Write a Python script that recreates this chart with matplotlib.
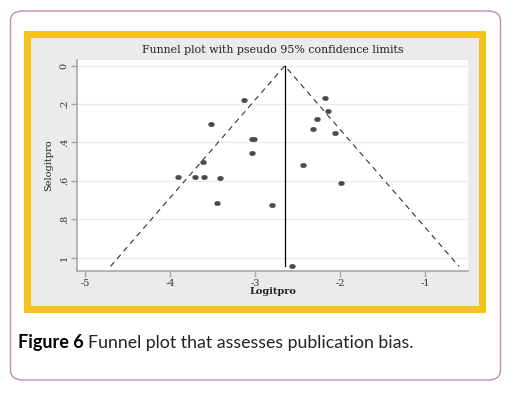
import matplotlib
matplotlib.use('Agg')
import matplotlib.pyplot as plt
import numpy as np
from matplotlib.patches import FancyBboxPatch, Rectangle
from matplotlib.path import Path

# 数据
logitpro = [-3.13, -2.18, -2.14, -2.27, -2.32, -2.06, -3.52, -3.04, -3.01,
            -3.04, -3.61, -2.44, -3.90, -3.71, -3.60, -3.41, -1.99, -3.45,
            -2.80, -2.56]
selogitpro = [0.179, 0.167, 0.235, 0.277, 0.329, 0.351, 0.303, 0.384, 0.384,
              0.456, 0.504, 0.519, 0.581, 0.581, 0.581, 0.585, 0.611, 0.717,
              0.727, 1.042]
theta = -2.65      # 合并效应
se_max = 1.046     # 漏斗底部
xticks = [-5, -4, -3, -2, -1]
yticks = [0, 0.2, 0.4, 0.6, 0.8, 1]
yticklabels = ['0', '.2', '.4', '.6', '.8', '1']

W, H = 516, 394
fig = plt.figure(figsize=(W / 100, H / 100), dpi=100)
fig.patch.set_facecolor('white')

# 外框
outer = FancyBboxPatch((10.5 / W, 14 / H), 490 / W, 369 / H,
                       boxstyle='round,pad=0,rounding_size=0.025',
                       transform=fig.transFigure, facecolor='white',
                       edgecolor='#BE8DB0', lw=1.0, zorder=-3)
fig.patches.append(outer)
# 黄色框
frame = Rectangle((27 / W, (H - 309) / H), 455 / W, 275 / H,
                  transform=fig.transFigure, facecolor='#EBEBEB',
                  edgecolor='#F6C21C', lw=5, zorder=-2)
fig.patches.append(frame)

ax = fig.add_axes([77 / W, (H - 271) / H, (468 - 77) / W, (271 - 60) / H])
ax.set_zorder(1)
ax.set_facecolor('white')

# 椭圆点
circ = Path.unit_circle()
ell = Path(circ.vertices * np.array([1.0, 0.78]), circ.codes)

# 漏斗线
ax.plot([theta - 1.96 * se_max, theta, theta + 1.96 * se_max],
        [se_max, 0, se_max], ls=(0, (5, 4)), color='#333333', lw=0.8)
ax.plot([theta, theta], [0, se_max], color='black', lw=0.9)
ax.plot(logitpro, selogitpro, ls='none', marker=ell, ms=4.2,
        color='#4a4a4a', mec='#4a4a4a', mew=0.3)

ax.set_xlim(-5.094, -0.494)
ax.set_ylim(1.07, -0.03)
ax.set_xticks(xticks)
ax.set_xticklabels([str(t) for t in xticks], fontfamily='DejaVu Serif', fontsize=7)
ax.set_yticks(yticks)
ax.set_yticklabels(yticklabels, fontfamily='DejaVu Serif', fontsize=7,
                   rotation=90, va='center')
ax.grid(axis='y', color='#F3EAEA', lw=0.9)
ax.set_axisbelow(True)
for s in ['top', 'right']:
    ax.spines[s].set_visible(False)
for s in ['left', 'bottom']:
    ax.spines[s].set_color('#A8A8A8')
    ax.spines[s].set_linewidth(1.2)
ax.tick_params(color='#A8A8A8', length=4, width=1, pad=2, labelcolor='#333333')

ax.set_title('Funnel plot with pseudo 95% confidence limits',
             fontfamily='DejaVu Serif', fontsize=7.9, pad=5, color='#222222')
ax.set_xlabel('Logitpro', fontfamily='DejaVu Serif', fontsize=7,
              fontweight='bold', labelpad=-1, color='#222222')
ax.set_ylabel('Selogitpro', fontfamily='DejaVu Serif', fontsize=7,
              labelpad=5, color='#222222')

# 图注
t1 = fig.text(18 / W, (H - 348) / H, 'Figure 6', fontfamily='Lato',
              fontweight='bold', fontsize=13, color='black')
fig.canvas.draw()
bb = t1.get_window_extent()
fig.text((bb.x1 + 4) / W, (H - 348) / H, 'Funnel plot that assesses publication bias.',
         fontfamily='Lato', fontsize=12.8, color='#222222')

fig.savefig('out.png', dpi=100)
